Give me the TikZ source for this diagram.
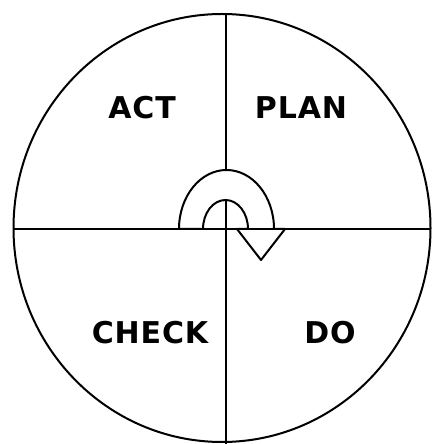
\documentclass[tikz,border=0pt]{standalone}
\usepackage{fontspec}
\setmainfont{DejaVu Sans}
\begin{document}
\begin{tikzpicture}[x=1pt,y=1pt,
  lbl/.style={font=\fontsize{30}{32}\selectfont\bfseries\addfontfeatures{LetterSpace=3}, inner sep=0pt, anchor=center},
  rim/.style={line width=2pt},
  cross/.style={line width=1.5pt},
  turn/.style={line width=2pt, fill=white, line join=round}]
\useasboundingbox (0,0) rectangle (431,444);
\coordinate (c) at (222,216);
\draw[rim] (c) ellipse [x radius=208.5, y radius=214];
\coordinate (top) at (226,431);
\coordinate (bot) at (226,0);
\coordinate (lft) at (14,215);
\coordinate (rgt) at (431,215);
\draw[cross] (top) -- (bot);
\draw[cross] (lft) -- (rgt);
\draw[turn] (179,215) arc[start angle=180, end angle=0, x radius=47.5, y radius=59]
  -- (285,215) -- (261,184) -- (237,215) -- (248,215)
  arc[start angle=0, end angle=180, x radius=22.5, y radius=29] -- cycle;
\draw[cross] (179,215) -- (285,215);
\node[lbl] (act) at (142,336) {ACT};
\node[lbl] (plan) at (301,336) {PLAN};
\node[lbl] (check) at (150,111) {CHECK};
\node[lbl] (do) at (330,111) {DO};
\end{tikzpicture}
\end{document}
